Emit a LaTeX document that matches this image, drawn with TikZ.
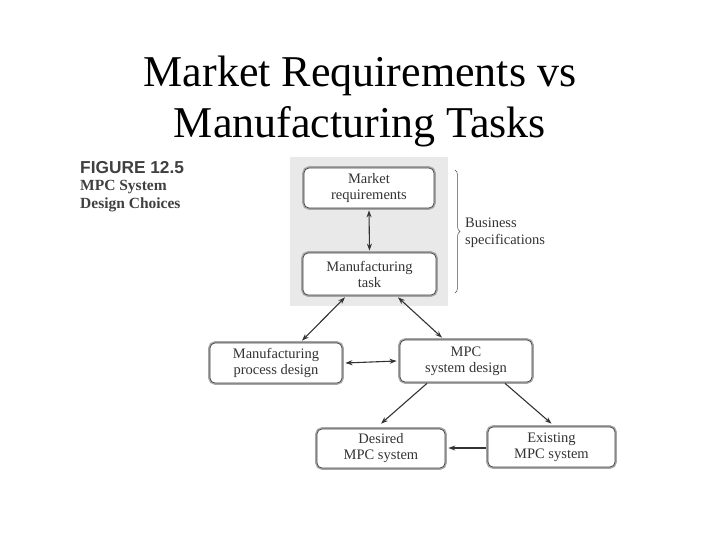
\documentclass[tikz,border=0pt]{standalone}
\usepackage{fontspec}
\setmainfont{Liberation Serif}
\newfontfamily\labsans{Liberation Sans}
\usetikzlibrary{arrows.meta,decorations.pathreplacing,calc}
\definecolor{ink}{HTML}{333333}
\definecolor{panel}{HTML}{E9E9E9}
\tikzset{
  box/.style={draw=black!75, line width=0.7pt, rounded corners=5pt, fill=white,
    preaction={draw=black!35, line width=3.6pt},
    text=ink, align=center, inner sep=1pt,
    font=\fontsize{14.5}{16}\selectfont},
  conn/.style={draw=black!80, line width=1.1pt},
  tip/.style={-{Stealth[length=7pt,width=5pt]}},
  tips/.style={{Stealth[length=7pt,width=5pt]}-{Stealth[length=7pt,width=5pt]}},
}
\begin{document}
\begin{tikzpicture}[x=1pt,y=-1pt]
\useasboundingbox (0,0) rectangle (720,540);
% title
\node[anchor=base, font=\fontsize{44}{50}\selectfont] (t1) at (360,87) {Market Requirements vs};
\node[anchor=base, font=\fontsize{44}{50}\selectfont] (t2) at (360,138) {Manufacturing Tasks};
% figure label
\node[anchor=base west, inner sep=0, text=black!75, font=\labsans\bfseries\fontsize{17.3}{18}\selectfont] (fl) at (80,174) {FIGURE 12.5};
\node[anchor=base west, inner sep=0, text=black!75, font=\bfseries\fontsize{15.5}{17}\selectfont] (f2) at (80,191) {MPC System};
\node[anchor=base west, inner sep=0, text=black!75, font=\bfseries\fontsize{15.5}{17}\selectfont] (f3) at (80,208) {Design Choices};
% panel
\fill[panel] (290,157) rectangle (448,306);
% boxes
\node[box, minimum width=130pt, minimum height=40pt] (mr) at (369,188) {Market\\requirements};
\node[box, minimum width=133pt, minimum height=42pt] (mt) at (369.5,274) {Manufacturing\\task};
\node[box, minimum width=132pt, minimum height=40pt] (mp) at (276,363) {Manufacturing\\process design};
\node[box, minimum width=132pt, minimum height=42pt] (ms) at (466,361) {MPC\\system design};
\node[box, minimum width=128pt, minimum height=39pt] (ds) at (381,448.5) {Desired\\MPC system};
\node[box, minimum width=127pt, minimum height=40pt] (es) at (551.5,447) {Existing\\MPC system};
% brace
\coordinate (b1) at (455,170);
\coordinate (b2) at (455,293);
\draw[black!70, line width=0.5pt, decorate, decoration={brace, amplitude=5pt}] (b1) -- (b2);
\node[anchor=west, align=left, text=ink, inner sep=0, font=\fontsize{14.5}{17}\selectfont] (bs) at (465,233) {Business\\specifications};
% connectors
\draw[conn, tips] ($(mr.south)+(0,2)$) -- ($(mt.north)+(0,-2)$);
\draw[conn, tips] ($(mt.south)+(-24.5,2)$) -- ($(mp.north)+(26,-2)$);
\draw[conn, tips] ($(mt.south)+(28.5,2)$) -- ($(ms.north)+(-24,-2)$);
\draw[conn, tips] ($(mp.east)+(3,0)$) -- ($(ms.west)+(-3,0)$);
\draw[conn, tip] ($(ms.south)+(-39,1)$) -- ($(ds.north)+(0,-5)$);
\draw[conn, tip] ($(ms.south)+(39,1)$) -- ($(es.north)+(0,-3)$);
\draw[conn, tip] ($(es.west)+(-2,1)$) -- ($(ds.east)+(3,-0.5)$);
\end{tikzpicture}
\end{document}
